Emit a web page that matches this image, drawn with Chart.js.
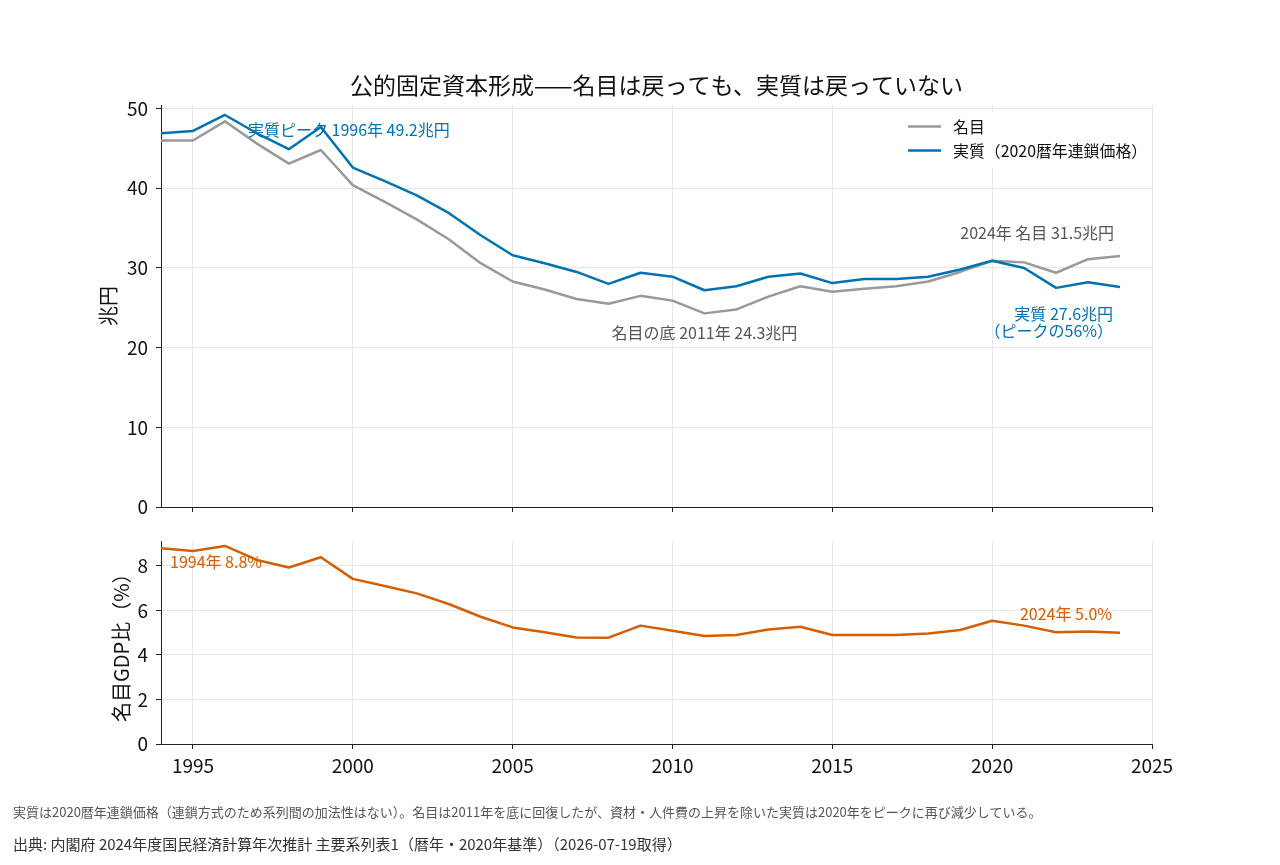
<!DOCTYPE html>
<html lang="ja">
<head>
<meta charset="utf-8">
<title>公的固定資本形成</title>
<script src="https://cdn.jsdelivr.net/npm/chart.js@4.4.1/dist/chart.umd.min.js"></script>
<style>
  html, body { margin: 0; padding: 0; background: #fff; }
  #page { position: relative; width: 1280px; height: 865px; overflow: hidden; font-family: "Noto Sans CJK JP", "Noto Sans", sans-serif; }
  #topChart { position: absolute; left: 0; top: 0; }
  #gdpChart { position: absolute; left: 0; top: 520px; }
  .note { position: absolute; left: 13px; white-space: nowrap; }
  #note1 { top: 803px; font-size: 13px; line-height: 18px; color: #555; }
  #note2 { top: 833px; font-size: 15px; line-height: 22px; color: #333; }
</style>
</head>
<body>
<div id="page">
  <canvas id="topChart" width="1280" height="540"></canvas>
  <canvas id="gdpChart" width="1280" height="345"></canvas>
  <div class="note" id="note1">実質は2020暦年連鎖価格（連鎖方式のため系列間の加法性はない）。名目は2011年を底に回復したが、資材・人件費の上昇を除いた実質は2020年をピークに再び減少している。</div>
  <div class="note" id="note2">出典: 内閣府 2024年度国民経済計算年次推計 主要系列表1（暦年・2020年基準）（2026-07-19取得）</div>
</div>
<script>
const years = [1994, 1995, 1996, 1997, 1998, 1999, 2000, 2001, 2002, 2003, 2004,
  2005, 2006, 2007, 2008, 2009, 2010, 2011, 2012, 2013, 2014,
  2015, 2016, 2017, 2018, 2019, 2020, 2021, 2022, 2023, 2024];

// 兆円
const nominal = [46.0, 46.0, 48.4, 45.6, 43.1, 44.8, 40.4, 38.3, 36.1, 33.6, 30.6,
  28.3, 27.3, 26.1, 25.5, 26.5, 25.9, 24.3, 24.8, 26.4, 27.7,
  27.0, 27.4, 27.7, 28.3, 29.5, 30.9, 30.7, 29.4, 31.1, 31.5];
const real = [46.9, 47.2, 49.2, 46.9, 44.9, 47.7, 42.6, 40.9, 39.1, 36.9, 34.1,
  31.6, 30.6, 29.5, 28.0, 29.4, 28.9, 27.2, 27.7, 28.9, 29.3,
  28.1, 28.6, 28.6, 28.9, 29.8, 30.9, 30.0, 27.5, 28.2, 27.6];

// 名目GDP比 (%)
const gdpRatio = [8.8, 8.67, 8.9, 8.27, 7.93, 8.39, 7.42, 7.1, 6.77, 6.29, 5.72,
  5.24, 5.02, 4.79, 4.78, 5.32, 5.09, 4.85, 4.9, 5.15, 5.27,
  4.9, 4.9, 4.9, 4.97, 5.12, 5.54, 5.32, 5.02, 5.05, 5.0];

const xTicks = [1995, 2000, 2005, 2010, 2015, 2020, 2025];
const yTicksTop = [0, 10, 20, 30, 40, 50];
const yTicksGdp = [0, 2, 4, 6, 8];

const FONT = "'Noto Sans CJK JP', 'Noto Sans', sans-serif";
const GRAY = "#999999";
const BLUE = "#0072B2";
const ORANGE = "#D55E00";
const NOTE_GRAY = "#555555";

Chart.defaults.font.family = FONT;
Chart.defaults.color = "#111";

const points = (vals) => years.map((yr, i) => ({ x: yr, y: vals[i] }));
const setTicks = (list) => (scale) => { scale.ticks = list.map((v) => ({ value: v })); };

const xScale = (showLabels, height) => ({
  type: "linear",
  min: 1994,
  max: 2025,
  afterBuildTicks: setTicks(xTicks),
  afterFit: (s) => { s.height = height; },
  grid: { color: "#e6e6e6", tickColor: "#222", tickLength: 5 },
  border: { color: "#222", width: 1 },
  ticks: {
    display: showLabels, padding: 5, maxRotation: 0, autoSkip: false,
    font: { size: 19 }, color: "#111",
    callback: (v) => String(v)
  }
});

const yScale = (max, ticks, title, titlePad) => ({
  min: 0,
  max,
  afterBuildTicks: setTicks(ticks),
  afterFit: (s) => { s.width = 161; },
  grid: { color: "#e6e6e6", tickColor: "#222", tickLength: 5 },
  border: { color: "#222", width: 1 },
  ticks: { padding: 8, font: { size: 19 }, color: "#111" },
  title: { display: true, text: title, font: { size: 20 }, color: "#111", padding: { top: titlePad, bottom: 0 } }
});

// text notes tied to data points
const notesPlugin = (notes) => ({
  id: "notes",
  afterDatasetsDraw(chart) {
    const { ctx, scales: { x, y } } = chart;
    ctx.save();
    ctx.font = `16px ${FONT}`;
    ctx.textBaseline = "middle";
    notes.forEach((n) => {
      const px = x.getPixelForValue(n.year) + n.dx;
      const py = y.getPixelForValue(n.value) + n.dy;
      ctx.fillStyle = n.color;
      ctx.textAlign = n.align;
      n.lines.forEach((line, i) => ctx.fillText(line, px, py + i * 17));
    });
    ctx.restore();
  }
});

const legendPlugin = {
  id: "cornerLegend",
  afterDraw(chart) {
    const { ctx, chartArea } = chart;
    const textX = chartArea.right - 199;
    ctx.save();
    ctx.fillStyle = "rgba(255,255,255,0.85)";
    ctx.fillRect(textX - 56, chartArea.top + 7, chartArea.right - 5 - (textX - 56), 56);
    ctx.font = `15.9px ${FONT}`;
    ctx.textBaseline = "middle";
    ctx.textAlign = "left";
    [0, 1].forEach((i) => {
      const ds = chart.data.datasets[i];
      const yy = chartArea.top + 21.5 + i * 24;
      ctx.strokeStyle = ds.borderColor;
      ctx.lineWidth = 2.5;
      ctx.beginPath();
      ctx.moveTo(textX - 45, yy);
      ctx.lineTo(textX - 12, yy);
      ctx.stroke();
      ctx.fillStyle = "#111";
      ctx.fillText(ds.label, textX, yy);
    });
    ctx.restore();
  }
};

const last = years.length - 1;
const peakIdx = real.indexOf(Math.max(...real));
const lowIdx = nominal.indexOf(Math.min(...nominal));
const share = Math.round(real[last] / real[peakIdx] * 100);

const topNotes = [
  { year: years[peakIdx], value: real[peakIdx], dx: 23, dy: 14.5, align: "left", color: BLUE,
    lines: [`実質ピーク ${years[peakIdx]}年 ${real[peakIdx].toFixed(1)}兆円`] },
  { year: years[lowIdx], value: nominal[lowIdx], dx: 0, dy: 20, align: "center", color: NOTE_GRAY,
    lines: [`名目の底 ${years[lowIdx]}年 ${nominal[lowIdx].toFixed(1)}兆円`] },
  { year: years[last], value: nominal[last], dx: -6, dy: -23, align: "right", color: NOTE_GRAY,
    lines: [`${years[last]}年 名目 ${nominal[last].toFixed(1)}兆円`] },
  { year: years[last], value: real[last], dx: -7, dy: 27, align: "right", color: BLUE,
    lines: [`実質 ${real[last].toFixed(1)}兆円`, `（ピークの${share}%）`] }
];

const gdpNotes = [
  { year: years[0], value: gdpRatio[0], dx: 9, dy: 14, align: "left", color: ORANGE,
    lines: [`${years[0]}年 ${gdpRatio[0].toFixed(1)}%`] },
  { year: years[last], value: gdpRatio[last], dx: -8, dy: -18.5, align: "right", color: ORANGE,
    lines: [`${years[last]}年 ${gdpRatio[last].toFixed(1)}%`] }
];

const baseElements = {
  point: { radius: 0, hoverRadius: 0 },
  line: { borderWidth: 2.5, tension: 0, fill: false, borderJoinStyle: "round", borderCapStyle: "butt" }
};

new Chart(document.getElementById("topChart"), {
  type: "line",
  data: {
    datasets: [
      { label: "名目", data: points(nominal), borderColor: GRAY, order: 1 },
      { label: "実質（2020暦年連鎖価格）", data: points(real), borderColor: BLUE, order: 0 }
    ]
  },
  options: {
    responsive: false,
    animation: false,
    events: [],
    layout: { padding: { left: 0, right: 128, top: 0, bottom: 0 } },
    elements: baseElements,
    plugins: {
      legend: { display: false },
      tooltip: { enabled: false },
      title: {
        display: true,
        text: "公的固定資本形成——名目は戻っても、実質は戻っていない",
        fullSize: false,
        font: { size: 23, weight: "normal" },
        color: "#111",
        padding: { top: 71.2, bottom: 6.2 }
      }
    },
    scales: {
      x: xScale(false, 33),
      y: yScale(50.45, yTicksTop, "兆円", 96.5)
    }
  },
  plugins: [notesPlugin(topNotes), legendPlugin]
});

new Chart(document.getElementById("gdpChart"), {
  type: "line",
  data: {
    datasets: [
      { label: "名目GDP比", data: points(gdpRatio), borderColor: ORANGE }
    ]
  },
  options: {
    responsive: false,
    animation: false,
    events: [],
    layout: { padding: { left: 0, right: 128, top: 21.5, bottom: 0 } },
    elements: baseElements,
    plugins: { legend: { display: false }, tooltip: { enabled: false } },
    scales: {
      x: xScale(true, 121),
      y: yScale(9.1, yTicksGdp, "名目GDP比（%）", 109)
    }
  },
  plugins: [notesPlugin(gdpNotes)]
});
</script>
</body>
</html>
